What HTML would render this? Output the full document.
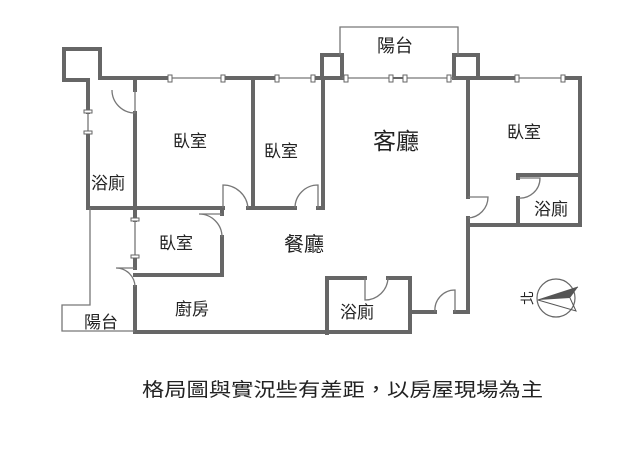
<!DOCTYPE html>
<html><head><meta charset="utf-8"><style>
html,body{margin:0;padding:0;background:#fff;width:640px;height:461px;overflow:hidden}
text{font-family:"Liberation Sans","Noto Sans CJK TC",sans-serif;fill:#222}
</style></head><body>
<svg width="640" height="461" viewBox="0 0 640 461" xmlns="http://www.w3.org/2000/svg">
<g stroke="#666" stroke-width="4" fill="none" stroke-linecap="square">
<path d="M64 49 H100 V78 M64 49 V80 H88"/>
<path d="M100 78 H170 M223 78 H277 M313 78 H342"/>
<path d="M458 78 H517 M563 78 H580 V225 H468"/>
<path d="M88 80 V112 M88 133 V208"/>
<path d="M88 208 H223 M248 208 H295 M318 208 H323 V78"/>
<path d="M135 82 V90 M135 113 V220 M135 257 V268 M135 287 V332"/>
<path d="M253 78 V208"/>
<path d="M222 208 V214 M222 237 V275 H135"/>
<path d="M135 332 H410 V312 H435 M455 312 H468 V218 M468 197 V78"/>
<path d="M327 333 V278 H365 M388 278 H410 V312"/>
<path d="M518 225 V198 M518 178 V175 H580"/>
<path d="M322 78 V55 H342 V78 M454 78 V55 H478 V78 H458"/>
</g>
<g stroke="#777" stroke-width="1.3" fill="none">
<path d="M90 208 V305 H62 V331 H135"/>
<path d="M340 55 V27 H458 V55"/>
<path d="M170 78 H223 M277 78 H313 M517 78 H563 M88 112 V133 M135 220 V257 M342 78 H454"/>
<path d="M135 90 V113 A23 23 0 0 1 112 90"/>
<path d="M223 208 V185 A25 25 0 0 1 248 208"/>
<path d="M318 208 V185 A23 23 0 0 0 295 208"/>
<path d="M222 214 H199 A23 23 0 0 1 222 237"/>
<path d="M135 268 H116 A19 19 0 0 1 135 287"/>
<path d="M365 278 V300 A23 23 0 0 0 388 278"/>
<path d="M455 312 V290 A20 20 0 0 0 435 312"/>
<path d="M468 197 H488 A21 21 0 0 1 468 218"/>
<path d="M518 178 H540 A20 20 0 0 1 518 198"/>
</g>
<g fill="#fff" stroke="#666" stroke-width="1">
<rect x="168" y="75" width="4" height="7"/><rect x="221" y="75" width="4" height="7"/>
<rect x="275" y="75" width="4" height="7"/><rect x="311" y="75" width="4" height="7"/>
<rect x="515" y="75" width="4" height="7"/><rect x="561" y="75" width="4" height="7"/>
<rect x="344" y="75" width="4" height="7"/><rect x="447" y="75" width="4" height="7"/>
<rect x="389" y="75" width="4" height="7"/><rect x="403" y="75" width="4" height="7"/>
<rect x="84" y="110" width="8" height="3"/><rect x="84" y="131" width="8" height="3"/>
<rect x="131" y="218" width="8" height="3"/><rect x="131" y="255" width="8" height="3"/>
</g>
<path d="M393 78 H403" stroke="#666" stroke-width="2"/>
<circle cx="556" cy="298" r="19" fill="none" stroke="#666" stroke-width="1.2"/>
<path d="M538 300 L578 287 L570 298 Z" fill="#555"/>
<path d="M538 300 L578 287 M538 300 L576 311 L570 298" fill="none" stroke="#555" stroke-width="1"/>
<text x="529" y="298" font-size="14" transform="rotate(-90 529 298)" text-anchor="middle" dominant-baseline="middle">北</text>
<text x="173" y="147" font-size="17">臥室</text>
<text x="264" y="157" font-size="17">臥室</text>
<text x="91" y="189" font-size="17">浴廁</text>
<text x="159" y="249" font-size="17">臥室</text>
<text x="284" y="251" font-size="20">餐廳</text>
<text x="175" y="315" font-size="17">廚房</text>
<text x="84" y="328" font-size="17">陽台</text>
<text x="377" y="52" font-size="18">陽台</text>
<text x="373" y="149" font-size="23">客廳</text>
<text x="507" y="138" font-size="17">臥室</text>
<text x="534" y="215" font-size="17">浴廁</text>
<text x="340" y="318" font-size="17">浴廁</text>
<text x="142" y="396" font-size="19" textLength="401" lengthAdjust="spacingAndGlyphs">格局圖與實況些有差距，以房屋現場為主</text>
</svg>
</body></html>
